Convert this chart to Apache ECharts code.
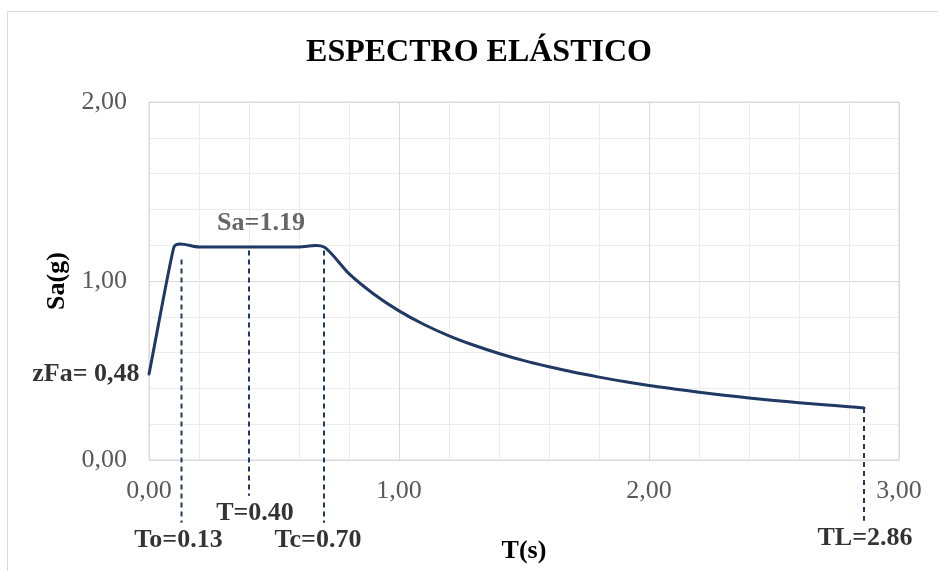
<!DOCTYPE html>
<html>
<head>
<meta charset="utf-8">
<script src="https://cdn.jsdelivr.net/npm/echarts@6/dist/echarts.min.js"></script>
<style>
  html, body { margin: 0; padding: 0; background: #ffffff; }
  #chart { width: 938px; height: 571px; }
</style>
</head>
<body>
<div id="chart"></div>
<script>
// Elastic design spectrum: period T (s) against spectral acceleration Sa (g)
const periods  = [0, 0.10, 0.20, 0.30, 0.40, 0.50, 0.60, 0.70,
                  0.80, 0.90, 1.00, 1.10, 1.20, 1.30, 1.40, 1.50, 1.60, 1.70, 1.80, 1.90,
                  2.00, 2.10, 2.20, 2.30, 2.40, 2.50, 2.60, 2.70, 2.80, 2.86];
const spectrum = [0.48, 1.19, 1.19, 1.19, 1.19, 1.19, 1.19, 1.19,
                  1.041, 0.926, 0.833, 0.757, 0.694, 0.641, 0.595, 0.555, 0.521, 0.490, 0.463, 0.438,
                  0.416, 0.397, 0.379, 0.362, 0.347, 0.333, 0.320, 0.309, 0.298, 0.291];

// Reference periods marked with dashed guides
const guideNames   = ['To', 'T', 'Tc', 'TL'];
const guidePeriods = [0.13, 0.40, 0.70, 2.86];
const guideTop     = [1.12, 1.17, 1.17, 0.29];
const guideBottom  = [-0.35, -0.20, -0.35, -0.34];

const plateauSa = 1.19;
const zFa = 0.48;

const xMin = 0, xMax = 3, xStep = 1;
const yMin = 0, yMax = 2, yStep = 1;

// caption nudges (px) for the guide captions
const captionShift = [-3, 6, -6, 1];

const SERIF = "'Liberation Serif', 'Times New Roman', serif";
const NAVY = '#1f3864';
const commaFmt = v => v.toFixed(2).replace('.', ',');

// Bezier smoothing: tangent along (next - prev), handle length tied to the shorter neighbour segment
const TENSION = 0.3;
function smoothPath(pts) {
  const n = pts.length;
  const cpIn = [], cpOut = [];
  for (let k = 0; k < n; k++) {
    const p = pts[k];
    if (k === 0) {
      const b = pts[1];
      cpOut[k] = [p[0] + (b[0] - p[0]) * TENSION, p[1] + (b[1] - p[1]) * TENSION];
      cpIn[k] = p;
      continue;
    }
    if (k === n - 1) {
      const a = pts[n - 2];
      cpIn[k] = [p[0] - (p[0] - a[0]) * TENSION, p[1] - (p[1] - a[1]) * TENSION];
      cpOut[k] = p;
      continue;
    }
    const a = pts[k - 1], b = pts[k + 1];
    const vx = b[0] - a[0], vy = b[1] - a[1];
    const vl = Math.hypot(vx, vy) || 1;
    const ux = vx / vl, uy = vy / vl;
    const d0 = Math.hypot(p[0] - a[0], p[1] - a[1]);
    const d1 = Math.hypot(b[0] - p[0], b[1] - p[1]);
    const h = TENSION * Math.min(d0, d1);
    cpIn[k]  = [p[0] - ux * h, p[1] - uy * h];
    cpOut[k] = [p[0] + ux * h, p[1] + uy * h];
  }
  let d = 'M' + pts[0][0] + ' ' + pts[0][1];
  for (let k = 0; k < n - 1; k++) {
    d += ' C' + cpOut[k][0] + ' ' + cpOut[k][1] + ' ' + cpIn[k + 1][0] + ' ' + cpIn[k + 1][1] +
         ' ' + pts[k + 1][0] + ' ' + pts[k + 1][1];
  }
  return d;
}

const boldLabel = { fontFamily: SERIF, fontWeight: 'bold', fontSize: 26, color: '#000000' };

const series = [];

// dashed guides
guidePeriods.forEach((t, i) => {
  series.push({
    type: 'line',
    clip: false,
    silent: true,
    symbol: 'none',
    z: 2,
    lineStyle: { color: NAVY, width: 2, type: [5, 4] },
    data: [[t, guideTop[i]], [t, guideBottom[i]]]
  });
});

// guide captions
series.push({
  type: 'scatter',
  clip: false,
  silent: true,
  symbolSize: 1,
  itemStyle: { color: 'rgba(0,0,0,0)' },
  data: guidePeriods.map((t, i) => ({
    value: [t, guideBottom[i]],
    label: {
      show: true, position: 'bottom', distance: 4, offset: [captionShift[i], 0],
      formatter: guideNames[i] + '=' + t.toFixed(2),
      ...boldLabel
    }
  }))
});

// spectrum curve
series.push({
  type: 'custom',
  clip: false,
  silent: true,
  z: 3,
  data: periods.map((t, i) => [t, spectrum[i]]),
  renderItem: (params, api) => {
    if (params.dataIndex !== 0) return { type: 'group', children: [] };
    const pts = periods.map((t, i) => api.coord([t, spectrum[i]]));
    return {
      type: 'path',
      shape: { pathData: smoothPath(pts) },
      style: { fill: 'none', stroke: NAVY, lineWidth: 3, lineJoin: 'round', lineCap: 'round' }
    };
  }
});

// plateau and zero-period captions
series.push({
  type: 'scatter',
  clip: false,
  silent: true,
  symbolSize: 1,
  itemStyle: { color: 'rgba(0,0,0,0)' },
  data: [
    {
      value: [guidePeriods[1], plateauSa],
      label: {
        show: true, position: 'top', distance: 10, offset: [12, 0],
        formatter: 'Sa=' + plateauSa.toFixed(2),
        ...boldLabel, color: '#404040'
      }
    },
    {
      value: [0, zFa],
      label: {
        show: true, position: 'left', distance: 9,
        formatter: 'zFa= ' + commaFmt(zFa),
        ...boldLabel
      }
    }
  ]
});

const chart = echarts.init(document.getElementById('chart'), null, { renderer: 'canvas' });
chart.setOption({
  animation: false,
  backgroundColor: '#ffffff',
  graphic: [
    {
      type: 'rect', silent: true, z: -10,
      shape: { x: 7.5, y: 11.5, width: 945, height: 580 },
      style: { fill: 'none', stroke: '#d9d9d9', lineWidth: 1 }
    },
    {
      type: 'text', silent: true,
      x: 479, y: 53,
      style: {
        text: 'ESPECTRO ELÁSTICO', fontFamily: SERIF, fontWeight: 'bold', fontSize: 32,
        fill: '#000000', align: 'center', verticalAlign: 'middle'
      }
    }
  ],
  grid: {
    left: 149, top: 102, right: 39, bottom: 111,
    show: true, borderColor: '#d9d9d9', borderWidth: 1, backgroundColor: 'transparent'
  },
  xAxis: {
    type: 'value', min: xMin, max: xMax, interval: xStep,
    name: 'T(s)', nameLocation: 'middle', nameGap: 78,
    nameTextStyle: { fontFamily: SERIF, fontWeight: 'bold', fontSize: 26, color: '#000000' },
    axisLine: { show: false },
    axisTick: { show: false },
    minorTick: { show: false, splitNumber: 5 },
    splitLine: { show: true, lineStyle: { color: '#d9d9d9', width: 1 } },
    minorSplitLine: { show: true, lineStyle: { color: '#ececec', width: 1 } },
    axisLabel: { fontFamily: SERIF, fontSize: 26, color: '#595959', margin: 18, formatter: commaFmt }
  },
  yAxis: {
    type: 'value', min: yMin, max: yMax, interval: yStep,
    name: 'Sa(g)', nameLocation: 'middle', nameGap: 77, nameRotate: 90,
    nameTextStyle: { fontFamily: SERIF, fontWeight: 'bold', fontSize: 26, color: '#000000' },
    axisLine: { show: false },
    axisTick: { show: false },
    minorTick: { show: false, splitNumber: 5 },
    splitLine: { show: true, lineStyle: { color: '#d9d9d9', width: 1 } },
    minorSplitLine: { show: true, lineStyle: { color: '#ececec', width: 1 } },
    axisLabel: { fontFamily: SERIF, fontSize: 26, color: '#595959', margin: 22, formatter: commaFmt }
  },
  series: series
});
</script>
</body>
</html>
